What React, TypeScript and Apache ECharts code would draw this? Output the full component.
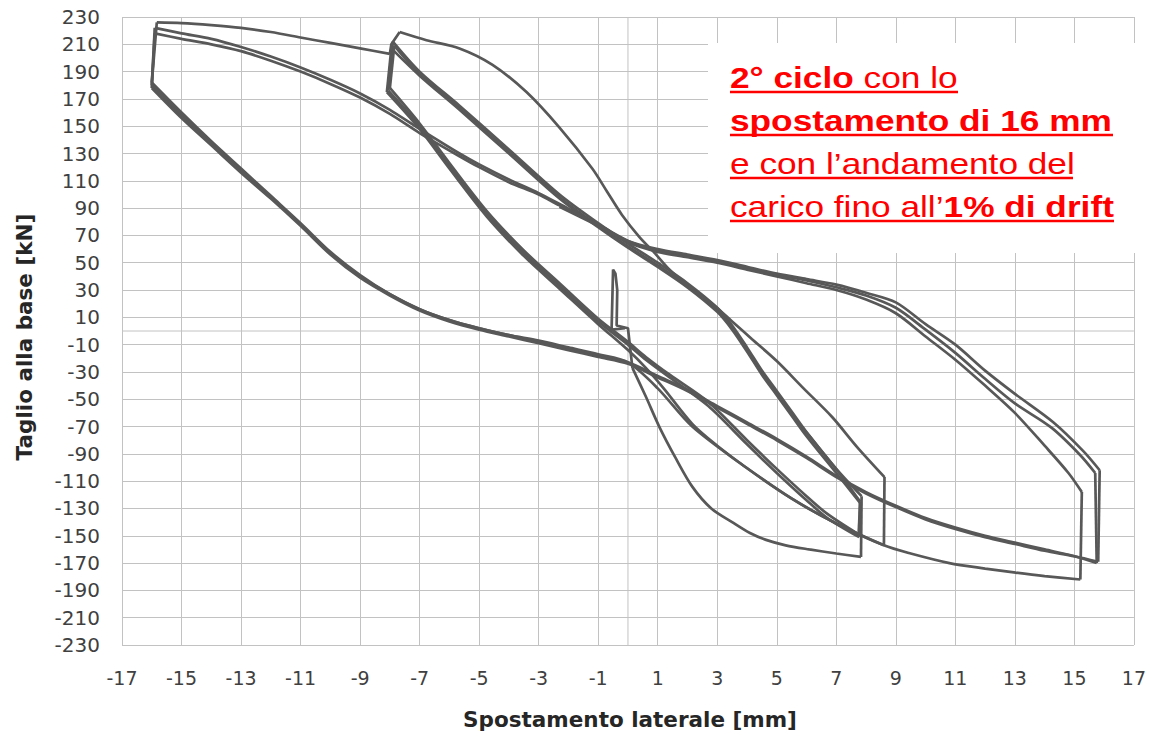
import React, { useEffect, useRef } from 'react';
import * as echarts from 'echarts';

type Pt = [number, number];

// Axis ranges (mm, kN)
const X_MIN = -17;
const X_MAX = 17;
const X_STEP = 2;
const Y_MIN = -230;
const Y_MAX = 230;
const Y_STEP = 20;

// Initial small push near the origin
const startSpike: Pt[] = [[-0.1, 2], [-0.55, 1], [-0.5, 45], [-0.42, 42], [-0.36, 30], [-0.38, 4], [0.0, 2], [0.15, -27]];

// First excursion to +8 mm
const push8First: Pt[] = [[0.15, -27], [0.6, -48], [1.05, -70], [1.6, -93], [2.16, -114], [2.8, -130], [3.5, -140], [4.1, -148], [4.64, -153], [5.3, -157], [6.09, -160], [7.0, -163], [7.83, -165.5]];

// +8 -> -8 branches
const back8a: Pt[] = [[7.85, -121], [7.0, -101], [6.0, -74], [5.5, -59], [5.0, -44], [4.5, -29], [4.0, -12], [3.5, 4], [3.0, 17], [2.0, 35], [1.0, 50], [0.0, 64], [-1.0, 79], [-2.3, 100], [-4.0, 133], [-5.66, 165], [-7.0, 190], [-7.9, 212]];
const back8b: Pt[] = [[7.8, -125], [7.1, -104], [6.1, -77], [5.5, -61], [5.0, -46], [4.5, -31], [4.0, -14], [3.5, 2], [3.0, 15], [2.0, 33], [1.0, 48], [0.0, 62], [-1.0, 77], [-2.3, 98], [-4.0, 131], [-5.66, 163], [-7.0, 188], [-7.85, 209]];
const back8c: Pt[] = [[7.8, -126], [7.0, -104], [6.0, -77], [5.5, -62], [5.0, -47], [4.5, -32], [4.0, -15], [3.5, 1], [3.0, 14], [2.0, 32], [1.0, 47], [0.0, 61], [-1.0, 76], [-2.3, 97], [-4.0, 130], [-5.66, 162], [-7.0, 187], [-7.95, 207]];
const back8d: Pt[] = [[8.62, -107], [7.7, -85], [6.86, -63], [5.9, -42], [5.0, -22], [4.17, -6], [3.5, 7], [2.83, 20], [2.0, 33], [1.39, 45], [0.9, 57], [0.38, 69], [-0.2, 85], [-0.7, 102], [-1.2, 119], [-2.3, 149], [-3.41, 175], [-4.55, 195], [-5.66, 207], [-6.77, 213], [-7.67, 219]];

// -8 -> +8 branches
const push8a: Pt[] = [[-8.05, 176], [-7.0, 150], [-6.0, 121], [-4.75, 86], [-3.5, 57], [-2.3, 33], [-1.0, 7], [0.0, -10], [0.6, -21], [1.4, -34], [2.7, -55], [4.0, -83], [5.0, -104], [6.0, -124], [6.7, -137], [7.77, -151]];
const push8b: Pt[] = [[-8.0, 178], [-7.0, 152], [-6.0, 123], [-4.75, 88], [-3.5, 59], [-2.3, 35], [-1.0, 9], [0.0, -8], [0.6, -19], [1.4, -32], [2.7, -52], [4.0, -80], [5.0, -101], [6.0, -121], [6.7, -134], [7.75, -149]];
const push8c: Pt[] = [[-8.1, 175], [-7.0, 148], [-6.0, 119], [-4.75, 84], [-3.5, 55], [-2.3, 31], [-1.0, 5], [0.0, -14], [0.6, -27], [1.2, -42], [2.16, -68], [3.0, -84], [3.97, -100], [5.52, -123], [7.0, -141], [8.6, -157]];

// First excursion to -16 mm
const envelopeNeg16: Pt[] = [[-8.0, 203], [-9.0, 207], [-10.0, 211], [-11.0, 215], [-12.0, 219], [-13.0, 222], [-14.0, 224], [-15.0, 225.5], [-15.83, 226]];

// -16 -> +16 branches
const push16a: Pt[] = [[-16.0, 182], [-15.0, 160], [-14.0, 139], [-13.0, 119], [-12.0, 99], [-11.0, 79], [-10.0, 58], [-9.0, 41], [-8.0, 27], [-7.0, 16], [-6.0, 8], [-5.0, 2], [-4.0, -3], [-3.0, -7], [-2.0, -12], [-1.0, -17], [0.0, -23], [1.0, -42], [2.16, -70], [3.97, -100], [5.52, -123], [7.0, -141], [8.6, -157], [9.5, -163], [10.8, -170], [12.0, -174], [13.03, -177], [14.0, -179.5], [15.2, -182]];
const push16b: Pt[] = [[-16.0, 180], [-15.0, 158], [-14.0, 138], [-13.0, 118], [-12.0, 98], [-11.0, 78], [-10.0, 57], [-9.0, 40], [-8.0, 27], [-7.0, 16], [-6.0, 8], [-5.0, 2], [-4.0, -3], [-3.0, -8], [-2.0, -13], [-1.0, -18], [0.0, -23], [1.0, -33], [2.0, -43], [3.0, -55], [4.0, -67], [5.0, -79], [6.0, -92], [7.0, -106], [8.0, -118], [9.0, -128], [10.0, -137], [11.0, -144], [12.0, -150], [13.0, -155], [14.0, -160], [15.0, -165], [15.75, -170]];
const push16c: Pt[] = [[-16.0, 178], [-15.0, 156], [-14.0, 136], [-13.0, 116], [-12.0, 97], [-11.0, 77], [-10.0, 56], [-9.0, 39], [-8.0, 26], [-7.0, 15], [-6.0, 7], [-5.0, 1], [-4.0, -4], [-3.0, -9], [-2.0, -14], [-1.0, -19], [0.0, -24], [1.0, -34], [2.0, -44], [3.0, -56], [4.0, -68], [5.0, -80], [6.0, -93], [7.0, -107], [8.0, -119], [9.0, -129], [10.0, -138], [11.0, -145], [12.0, -151], [13.0, -156], [14.0, -161], [15.0, -165], [15.8, -169]];

// +16 -> -16 branches
const back16a: Pt[] = [[15.25, -118], [14.8, -104], [14.0, -84], [13.0, -60], [12.0, -40], [11.0, -21], [10.0, -4], [9.0, 13], [8.0, 23], [7.0, 30], [6.0, 35], [5.0, 40], [4.0, 45], [3.0, 50], [2.0, 54], [1.0, 58], [0.0, 65], [-1.0, 78], [-2.3, 93], [-3.0, 101], [-4.0, 111], [-5.0, 122], [-5.66, 130], [-7.0, 148], [-8.0, 162], [-9.0, 174], [-10.0, 184], [-11.0, 193], [-12.0, 201], [-13.0, 208], [-14.0, 214], [-15.0, 218], [-15.9, 222]];
const back16b: Pt[] = [[15.7, -104], [15.2, -91], [14.24, -71], [13.0, -53], [12.0, -35], [11.0, -16], [10.0, 1], [9.0, 17], [8.0, 26], [7.0, 32], [6.0, 37], [5.0, 41], [4.0, 46], [3.0, 51], [2.0, 55], [1.0, 59], [0.5, 62], [0.0, 66], [-1.0, 78], [-2.3, 92], [-3.0, 100], [-4.0, 109], [-5.0, 120], [-5.66, 128], [-7.0, 145], [-8.0, 159], [-9.0, 171], [-10.0, 181], [-11.0, 190], [-12.0, 198], [-13.0, 205], [-14.0, 210], [-15.0, 214], [-15.9, 218]];
const back16c: Pt[] = [[15.85, -102], [15.3, -88], [14.3, -67], [13.0, -46], [12.0, -29], [11.0, -10], [10.0, 5], [9.0, 21], [8.0, 28], [7.0, 34], [6.0, 38], [5.0, 42], [4.0, 47], [3.0, 52], [2.0, 56], [1.0, 60], [0.0, 66], [-1.0, 77], [-2.3, 91]];

// Displacement holds at the peaks (force relaxation)
const holds: Pt[][] = [
  [[7.83, -165.5], [7.85, -121]],
  [[-7.9, 212], [-8.05, 176]],
  [[7.77, -151], [7.8, -125]],
  [[-7.85, 209], [-8.0, 178]],
  [[7.75, -149], [7.8, -126]],
  [[-7.95, 207], [-8.1, 175]],
  [[8.6, -157], [8.62, -107]],
  [[-7.67, 219], [-7.95, 210], [-8.0, 203]],
  [[-15.83, 226], [-16.0, 182]],
  [[15.2, -182], [15.25, -118]],
  [[-15.9, 222], [-16.0, 180]],
  [[15.75, -170], [15.7, -104]],
  [[-15.9, 218], [-16.0, 178]],
  [[15.8, -169], [15.85, -102]],
];

const curveBranches: Pt[][] = [
  push8First, back8a, push8a, back8b, push8b, back8c, push8c, back8d,
  envelopeNeg16, push16a, back16a, push16b, back16b, push16c, back16c,
];

const noteLines = [
  '{b|2° ciclo}{r| con lo}',
  '{b|spostamento di 16 mm}',
  '{r|e con l’andamento del}',
  '{r|carico fino all’}{b|1% di drift}',
];
const noteUnderlineEnds = [958, 1113, 1073, 1114];

const CURVE_COLOR = '#585858';
const CURVE_WIDTH = 2.7;
const GRID_COLOR = '#c2c2c2';

export default function App() {
  const ref = useRef<HTMLDivElement>(null);

  useEffect(() => {
    if (!ref.current) return;
    const chart = echarts.init(ref.current, undefined, { renderer: 'svg' });

    const lineBase = {
      type: 'line' as const,
      showSymbol: false,
      symbol: 'none',
      silent: true,
      animation: false,
    };

    const series: any[] = [
      {
        ...lineBase,
        data: [[0, Y_MIN], [0, Y_MAX]],
        lineStyle: { color: GRID_COLOR, width: 1 },
        z: 1,
      },
      {
        ...lineBase,
        data: [[X_MIN, 0], [X_MAX, 0]],
        lineStyle: { color: GRID_COLOR, width: 1 },
        z: 1,
      },
      {
        ...lineBase,
        data: startSpike,
        lineStyle: { color: CURVE_COLOR, width: CURVE_WIDTH },
        z: 3,
      },
      ...curveBranches.map((pts) => ({
        ...lineBase,
        data: pts,
        smooth: 0.3,
        lineStyle: { color: CURVE_COLOR, width: CURVE_WIDTH },
        z: 3,
      })),
      ...holds.map((pts) => ({
        ...lineBase,
        data: pts,
        lineStyle: { color: CURVE_COLOR, width: CURVE_WIDTH },
        z: 3,
      })),
    ];

    const noteFont = '"Liberation Sans", Arial, sans-serif';
    const noteTop = 77.5;
    const noteGap = 43;
    const graphic: any[] = [
      {
        type: 'rect',
        shape: { x: 708, y: 43, width: 441, height: 210 },
        style: { fill: '#ffffff' },
        z: 100,
        silent: true,
      },
      ...noteLines.map((t, i) => ({
        type: 'text',
        x: 730,
        y: noteTop + i * noteGap,
        scaleX: 1.175,
        z: 101,
        silent: true,
        style: {
          text: t,
          fill: '#ff0000',
          fontSize: 30,
          fontFamily: noteFont,
          align: 'left',
          verticalAlign: 'middle',
          rich: {
            b: { fill: '#ff0000', fontSize: 30, fontFamily: noteFont, fontWeight: 'bold' },
            r: { fill: '#ff0000', fontSize: 30, fontFamily: noteFont, fontWeight: 'normal' },
          },
        },
      })),
      ...noteUnderlineEnds.map((xEnd, i) => ({
        type: 'line',
        z: 101,
        silent: true,
        shape: { x1: 730, y1: noteTop + i * noteGap + 14.5, x2: xEnd, y2: noteTop + i * noteGap + 14.5 },
        style: { stroke: '#ff0000', lineWidth: 2.5 },
      })),
      {
        type: 'text',
        x: 630,
        y: 719,
        z: 101,
        silent: true,
        style: {
          text: 'Spostamento laterale [mm]',
          fill: '#262626',
          font: 'bold 21.5px "DejaVu Sans", sans-serif',
          align: 'center',
          verticalAlign: 'middle',
        },
      },
      {
        type: 'text',
        x: 24,
        y: 337,
        rotation: Math.PI / 2,
        z: 101,
        silent: true,
        style: {
          text: 'Taglio alla base [kN]',
          fill: '#262626',
          font: 'bold 21.5px "DejaVu Sans", sans-serif',
          align: 'center',
          verticalAlign: 'middle',
        },
      },
    ];

    chart.setOption({
      animation: false,
      backgroundColor: '#ffffff',
      grid: { left: 122, right: 14, top: 17, bottom: 94, containLabel: false },
      xAxis: {
        type: 'value',
        min: X_MIN,
        max: X_MAX,
        interval: X_STEP,
        axisLine: { show: false },
        axisTick: { show: false },
        splitLine: { show: true, lineStyle: { color: GRID_COLOR, width: 1 } },
        axisLabel: {
          color: '#404040',
          fontFamily: '"DejaVu Sans", sans-serif',
          fontSize: 19,
          margin: 23,
        },
      },
      yAxis: {
        type: 'value',
        min: Y_MIN,
        max: Y_MAX,
        interval: Y_STEP,
        axisLine: { show: false },
        axisTick: { show: false },
        splitLine: { show: true, lineStyle: { color: GRID_COLOR, width: 1 } },
        axisLabel: {
          color: '#404040',
          fontFamily: '"DejaVu Sans", sans-serif',
          fontSize: 20,
          margin: 22,
        },
      },
      series,
      graphic,
    });

    return () => chart.dispose();
  }, []);

  return (
    <div
      ref={ref}
      style={{ position: 'fixed', left: 0, top: 0, width: 1149, height: 739, background: '#fff' }}
    />
  );
}
